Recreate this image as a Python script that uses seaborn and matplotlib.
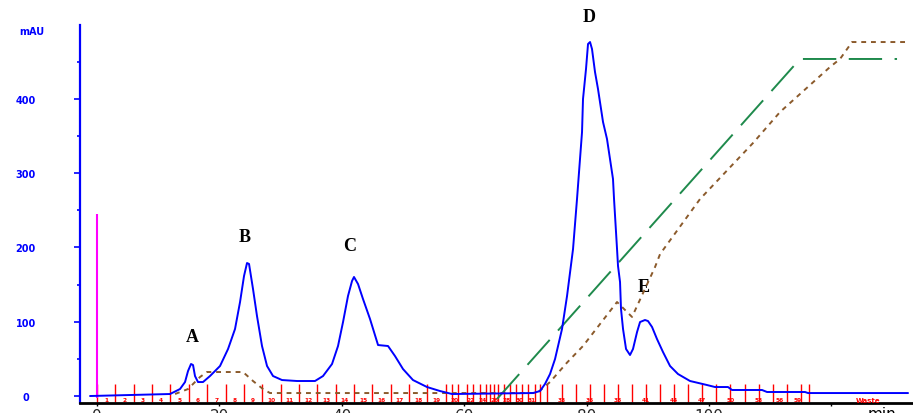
import matplotlib
matplotlib.use("Agg")
import numpy as np
import pandas as pd
import seaborn as sns
import matplotlib.pyplot as plt

# ---------------- data (min, mAU) ----------------
uv_time = [-1.14, 11.93, 13.56, 14.38, 14.87, 15.36, 15.69, 16.01, 16.50, 17.32, 18.46, 20.10,
           21.41, 22.55, 23.37, 24.02, 24.51, 24.84, 25.49, 26.14, 26.96, 27.78, 28.76, 30.23,
           32.68, 35.62, 36.93, 38.40, 39.38, 40.20, 41.01, 41.67, 41.99, 42.65, 43.46, 44.61,
           45.92, 47.55, 48.69, 50.00, 51.63, 53.92, 56.05, 58.01, 71.24, 72.39, 73.20, 74.02,
           74.84, 75.98, 76.80, 77.78, 78.43, 78.76, 79.25, 79.41, 79.90, 80.23, 80.56, 80.88,
           81.37, 81.86, 82.68, 83.33, 83.82, 84.31, 84.48, 84.97, 85.13, 85.46, 85.62, 85.95,
           86.44, 87.09, 87.58, 88.24, 88.73, 89.54, 90.03, 90.69, 91.50, 92.48, 93.63, 94.93,
           96.90, 99.67, 100.98, 103.10, 103.76, 108.66, 109.48, 115.69, 116.18, 132.52]
uv_mau = [0.0, 2.7, 9.4, 18.8, 33.6, 43.1, 41.7, 26.9, 18.8, 18.8, 26.9, 40.4,
          63.3, 90.2, 126.5, 161.5, 179.0, 177.7, 144.0, 107.7, 67.3, 40.4, 26.9, 21.5,
          20.2, 20.2, 26.9, 43.1, 67.3, 99.6, 134.6, 154.8, 160.2, 150.7, 130.6, 103.6,
          68.6, 67.3, 53.8, 36.3, 21.5, 12.1, 6.7, 2.7, 4.0, 6.7, 16.2, 29.6,
          49.8, 90.2, 134.6, 197.8, 265.1, 301.5, 355.3, 399.7, 440.1, 473.8, 476.4, 467.0,
          436.1, 413.2, 368.8, 345.9, 319.0, 292.1, 265.1, 197.8, 175.0, 153.4, 117.1, 90.2,
          63.3, 55.2, 63.3, 86.1, 99.6, 102.3, 100.9, 92.9, 76.7, 59.2, 40.4, 29.6,
          20.2, 14.8, 12.1, 12.1, 8.1, 8.1, 5.4, 5.4, 4.0, 4.0]

cond_time = [12.75, 14.87, 16.83, 17.97, 23.86, 25.49, 27.12, 28.27, 71.90, 74.02, 76.8,
             79.41, 84.97, 87.42, 91.18, 92.0, 98.53, 107.19, 111.60, 119.77, 121.41, 123.37, 132.03]
cond_val = [2.7, 9.4, 25.6, 32.3, 32.3, 20.2, 9.4, 4.0, 4.0, 18.8, 45.0,
            67.3, 126.5, 106.4, 173.6, 191.0, 265.1, 340.5, 382.2, 442.8, 453.6, 476.4, 476.4]

grad_time = [65.36, 114.87, 130.72]
grad_val = [-4.0, 453.6, 453.6]

inj_time = 0.0
inj_height = 245.0

peak_names = ["A", "B", "C", "D", "E"]
peak_label_t = [15.5, 24.2, 41.2, 80.4, 89.4]
peak_label_y = [80, 215, 202, 511, 148]

frac_times = [0, 3, 6, 9, 12, 15, 18, 21, 24, 27, 30, 33, 36, 39, 42, 45, 48, 51, 54, 57,
              58, 59, 60.5, 61.5, 62.5, 63.5, 64.2, 64.8, 65.5, 66.5, 67.5, 68.5, 69.5, 70.5,
              71.5, 72.4, 73.6, 75.9, 78.2, 80.5, 82.8, 85.1, 87.4, 89.7, 92.0, 94.3, 96.6,
              98.9, 101.2, 103.5, 105.8, 108.1, 110.4, 112.7, 115.0, 116.3]
frac_label_t = [1.5, 4.5, 7.5, 10.5, 13.5, 16.5, 19.5, 22.5, 25.5, 28.5, 31.5, 34.5, 37.5,
                40.5, 43.5, 46.5, 49.5, 52.5, 55.5, 58.5, 61.0, 63.0, 65.0, 67.0, 69.0, 71.0,
                75.9, 80.5, 85.1, 89.7, 94.3, 98.9, 103.5, 108.1, 111.5, 114.4]
frac_labels = ["1", "2", "3", "4", "5", "6", "7", "8", "9", "10", "11", "12", "13",
               "14", "15", "16", "17", "18", "19", "20", "22", "24", "26", "28", "30", "31",
               "33", "35", "38", "41", "44", "47", "50", "53", "56", "59"]

x_ticks = [0, 20, 40, 60, 80, 100, 120]
x_tick_labels = ["0", "20", "40", "60", "80", "100", ""]
y_ticks = [0, 100, 200, 300, 400]
y_tick_labels = ["0", "100", "200", "300", "400"]

# ---------------- figure ----------------
sns.set_style("white")
plt.rcParams["lines.scale_dashes"] = False

W, H = 913, 414
fig = plt.figure(figsize=(W / 100, H / 100), dpi=100)
ax = fig.add_axes([80 / W, 10 / H, 833 / W, 378.5 / H])
ax.set_xlim(-2.78, 133.33)
ax.set_ylim(-9.4, 500)

# fraction markers
ax.vlines(frac_times, -8, 16, colors="#ff0000", lw=1.0, zorder=2)
for t, s in zip(frac_label_t, frac_labels):
    ax.text(t, -4.8, s, color="#ff0000", fontsize=4.2, fontweight="bold",
            ha="center", va="center", zorder=3)
ax.text(126.0, -4.8, "Waste", color="#ff0000", fontsize=5, fontweight="bold",
        ha="center", va="center")

# injection marker
ax.vlines([inj_time], -2, inj_height, colors="#ff00ff", lw=1.5, zorder=3)

df_uv = pd.DataFrame({"time": uv_time, "mAU": uv_mau})
df_cond = pd.DataFrame({"time": cond_time, "val": cond_val})
df_grad = pd.DataFrame({"time": grad_time, "val": grad_val})

sns.lineplot(data=df_grad, x="time", y="val", ax=ax, color="#1f8a4c", lw=1.4,
             sort=False, estimator=None, linestyle=(0, (24, 9)), zorder=4)
sns.lineplot(data=df_cond, x="time", y="val", ax=ax, color="#8b5a2b", lw=1.4,
             sort=False, estimator=None, linestyle=(0, (3.5, 3.5)), zorder=4)
sns.lineplot(data=df_uv, x="time", y="mAU", ax=ax, color="#0000ff", lw=1.4,
             sort=False, estimator=None, zorder=5)

for n, t, y in zip(peak_names, peak_label_t, peak_label_y):
    ax.text(t, y, n, fontsize=13, fontweight="bold", family="Liberation Serif",
            ha="center", va="center", color="black", clip_on=False)

# axes styling
for s in ["top", "right"]:
    ax.spines[s].set_visible(False)
ax.spines["left"].set_color("#0000ff")
ax.spines["left"].set_linewidth(1.6)
ax.spines["bottom"].set_color("black")
ax.spines["bottom"].set_linewidth(2.0)

ax.set_yticks(y_ticks)
ax.set_yticklabels(y_tick_labels)
ax.set_yticks([50, 150, 250, 350, 450], minor=True)
ax.tick_params(axis="y", which="major", direction="out", length=4, width=1.2,
               color="#0000ff", labelcolor="#0000ff", labelsize=7, pad=35, left=True)
ax.tick_params(axis="y", which="minor", direction="out", length=2.5, width=1.2,
               color="#0000ff", left=True)
for lab in ax.get_yticklabels():
    lab.set_horizontalalignment("center")
    lab.set_fontweight("bold")

ax.set_xticks(x_ticks)
ax.set_xticklabels(x_tick_labels)
ax.tick_params(axis="x", which="major", direction="out", length=2.5, width=1,
               color="black", labelsize=11, pad=1, bottom=True)
ax.set_xlabel("")
ax.set_ylabel("")

fig.text(32 / W, 1 - 32 / H, "mAU", color="#0000ff", fontsize=7, fontweight="bold",
         ha="center", va="center")
fig.text(882 / W, 1 - 407 / H, "min", color="black", fontsize=11, ha="center", va="top")

fig.savefig("out.png", dpi=100)
